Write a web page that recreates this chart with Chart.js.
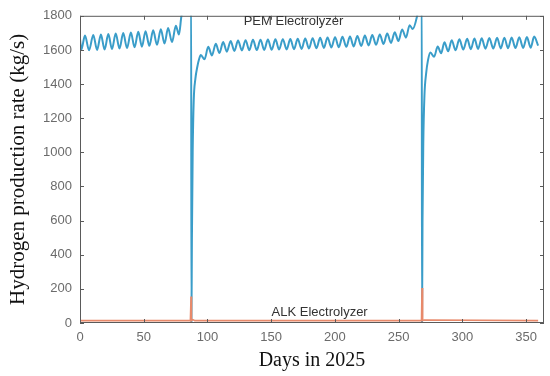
<!DOCTYPE html>
<html>
<head>
<meta charset="utf-8">
<script src="https://cdn.jsdelivr.net/npm/chart.js@4/dist/chart.umd.min.js"></script>
<style>
  html, body { margin: 0; padding: 0; background: #fff; }
  #wrap { width: 550px; height: 376px; }
</style>
</head>
<body>
<div id="wrap"><canvas id="h2Chart" width="550" height="376"></canvas></div>
<script>
// PEM electrolyzer: days and production rate (kg/s), peaks and troughs
const pemDays = [
    0, 1.0, 3.9, 7.1, 10.4, 13.4, 16.4, 19.3, 22.2, 25.1, 28.0, 31.0, 33.9, 36.9,
    39.9, 42.8, 45.7, 48.6, 51.4, 54.4, 57.4, 60.4, 63.4, 66.3, 69.1, 72.2, 75.2, 77.6,
    79.6, 83.0, 87.2,
    87.4, 87.8, 88.4, 89.2, 90.5, 92.0, 93.5,
    94.8, 97.7, 100.6, 103.5, 106.5, 109.4, 112.3, 115.2, 118.2, 121.1, 124.0, 127.0,
    129.9, 132.8, 135.7, 138.7, 141.6, 144.5, 147.4, 150.4, 153.3, 156.2, 159.1, 162.1,
    165.0, 167.9, 170.8, 173.8, 176.7, 179.6, 182.5, 185.5, 188.4, 191.3, 194.2, 197.2,
    200.1, 203.0, 205.9, 208.9, 211.8, 214.7, 217.6, 220.6, 223.5, 226.4, 229.3, 232.3,
    235.2, 238.1, 241.0, 244.0, 246.9, 249.8, 252.7, 255.7, 258.6, 261.0,
    264.5, 268.1,
    268.3, 268.7, 269.3, 270.2, 271.5, 273.0,
    274.9, 277.8, 280.6, 283.3, 285.9, 288.8, 291.6, 294.6, 297.6, 300.7, 303.7, 306.6,
    309.4, 312.3, 315.1, 318.1, 321.1, 324.2, 327.2, 330.1, 332.9, 335.8, 338.6, 341.6,
    344.6, 347.6, 350.6, 353.5, 356.3, 359.4
];
const pemRate = [
    1665, 1600, 1685, 1598, 1688, 1600, 1690, 1602, 1693, 1605, 1696, 1608, 1699, 1611,
    1702, 1615, 1706, 1619, 1710, 1624, 1715, 1630, 1721, 1637, 1728, 1646, 1742, 1690,
    1800, 1880, 1950,
    0, 500, 1000, 1300, 1430, 1500, 1548,
    1570, 1545, 1618, 1568, 1636, 1582, 1646, 1590, 1652, 1594, 1655, 1597,
    1657, 1598, 1659, 1599, 1660, 1600, 1661, 1601, 1662, 1602, 1663, 1603,
    1664, 1604, 1665, 1606, 1667, 1608, 1669, 1610, 1671, 1612, 1673, 1614,
    1675, 1616, 1677, 1618, 1679, 1620, 1681, 1623, 1684, 1626, 1687, 1630,
    1691, 1635, 1696, 1641, 1704, 1652, 1720, 1672, 1745, 1722,
    1800, 1950,
    0, 600, 1050, 1330, 1460, 1540,
    1585, 1560, 1620, 1580, 1645, 1592, 1657, 1598, 1662, 1602, 1665, 1604,
    1667, 1606, 1668, 1607, 1670, 1608, 1671, 1609, 1672, 1610, 1673, 1611,
    1674, 1612, 1676, 1613, 1678, 1625
];

// ALK electrolyzer: nearly flat with two spikes at the switch-over days
const alkDays = [0, 86.6, 87.1, 87.5, 88.6, 90.0, 267.9, 268.3, 268.8, 270.0, 359.4];
const alkRate = [14, 14, 155, 14, 20, 14, 14, 205, 14, 18, 14];

const seriesNames = ["PEM Electrolyzer", "ALK Electrolyzer"];
const xTitle = "Days in 2025";
const yTitle = "Hydrogen production rate (kg/s)";

const toPoints = (xs, ys) => xs.map((x, i) => ({ x: x, y: ys[i] }));

// box round the plot, inward ticks on all four sides, and the two in-plot labels
const matlabBox = {
    id: "matlabBox",
    afterDatasetsDraw(chart) {
        const { ctx, chartArea: a, scales: { x, y } } = chart;
        ctx.save();
        ctx.strokeStyle = "#5a5a5a";
        ctx.lineWidth = 1;
        ctx.strokeRect(a.left + 0.5, a.top + 0.5, a.right - a.left - 1, a.bottom - a.top - 1);
        ctx.beginPath();
        x.ticks.forEach((t) => {
            const px = Math.round(x.getPixelForValue(t.value)) + 0.5;
            ctx.moveTo(px, a.bottom); ctx.lineTo(px, a.bottom - 4);
            ctx.moveTo(px, a.top); ctx.lineTo(px, a.top + 4);
        });
        y.ticks.forEach((t) => {
            const py = Math.round(y.getPixelForValue(t.value)) + 0.5;
            ctx.moveTo(a.left, py); ctx.lineTo(a.left + 4, py);
            ctx.moveTo(a.right, py); ctx.lineTo(a.right - 4, py);
        });
        ctx.stroke();

        ctx.fillStyle = "#333";
        ctx.font = "13px 'Liberation Sans', Arial, sans-serif";
        ctx.textAlign = "center";
        ctx.textBaseline = "middle";
        ctx.fillText(seriesNames[0], x.getPixelForValue(167.5), y.getPixelForValue(1766));
        ctx.fillText(seriesNames[1], x.getPixelForValue(188), y.getPixelForValue(63));
        ctx.restore();
    }
};

new Chart(document.getElementById("h2Chart"), {
    type: "line",
    data: {
        datasets: [
            {
                label: seriesNames[1],
                data: toPoints(alkDays, alkRate),
                borderColor: "#e8896a",
                borderWidth: 1.6,
                pointRadius: 0,
                tension: 0,
                clip: 0,
                order: 0
            },
            {
                label: seriesNames[0],
                data: toPoints(pemDays, pemRate),
                borderColor: "#3a9dc9",
                borderWidth: 2,
                pointRadius: 0,
                cubicInterpolationMode: "monotone",
                clip: 0,
                order: 1
            }
        ]
    },
    options: {
        responsive: true,
        maintainAspectRatio: false,
        animation: false,
        layout: { padding: { top: 8, right: 6, left: 0, bottom: 0 } },
        plugins: {
            legend: { display: false },
            tooltip: { enabled: false }
        },
        scales: {
            x: {
                type: "linear",
                min: 0,
                max: 364,
                afterFit: (s) => { s.height = 53; },
                grid: { display: false, drawTicks: false },
                border: { display: false },
                ticks: {
                    stepSize: 50,
                    includeBounds: false,
                    maxRotation: 0,
                    padding: 7,
                    color: "#6b6b6b",
                    font: { family: "'Liberation Sans', Arial, sans-serif", size: 13 },
                    callback: (v) => String(v)
                },
                title: {
                    display: true,
                    text: xTitle,
                    color: "#111",
                    padding: { top: 0, bottom: 3 },
                    font: { family: "'Liberation Serif', 'Times New Roman', serif", size: 20 }
                }
            },
            y: {
                min: 0,
                max: 1800,
                afterFit: (s) => { s.width = 80; },
                grid: { display: false, drawTicks: false },
                border: { display: false },
                ticks: {
                    stepSize: 200,
                    padding: 8,
                    color: "#6b6b6b",
                    font: { family: "'Liberation Sans', Arial, sans-serif", size: 13 },
                    callback: (v) => String(v)
                },
                title: {
                    display: true,
                    text: yTitle,
                    color: "#111",
                    padding: { top: 6, bottom: 0 },
                    font: { family: "'Liberation Serif', 'Times New Roman', serif", size: 21 }
                }
            }
        }
    },
    plugins: [matlabBox]
});
</script>
</body>
</html>
